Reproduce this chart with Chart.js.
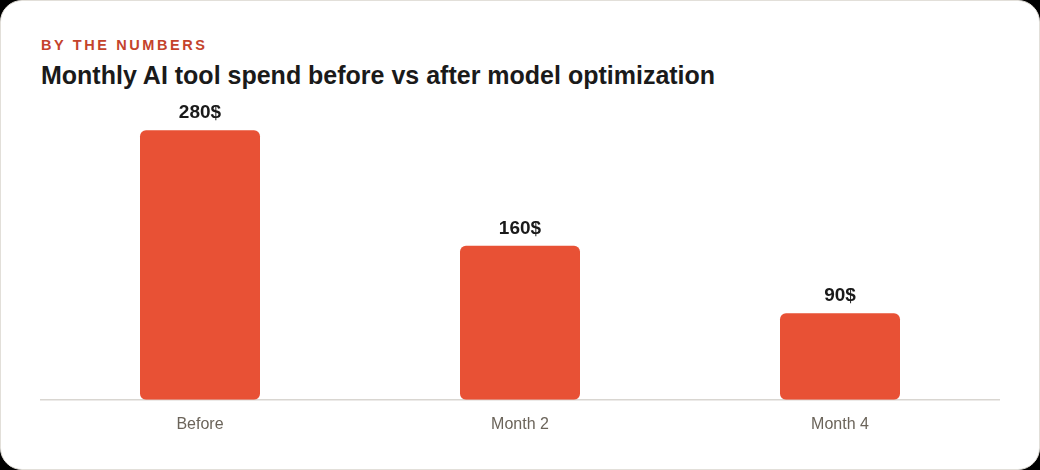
<!DOCTYPE html>
<html>
<head>
<meta charset="utf-8">
<script src="https://cdn.jsdelivr.net/npm/chart.js@4.4.1/dist/chart.umd.min.js"></script>
<style>
  html, body { margin:0; padding:0; background:#000; }
  body { width:1040px; height:470px; overflow:hidden; font-family:"Liberation Sans", Arial, sans-serif; }
  .card { position:absolute; left:0; top:0; width:1038px; height:468px; background:#fff; border:1px solid #e2dfd9; border-radius:22px; }
  .kicker { position:absolute; left:40px; top:36px; font-size:14.5px; font-weight:700; letter-spacing:2.6px; color:#c4432b; }
  .title { position:absolute; left:40px; top:60px; font-size:25px; font-weight:700; color:#1a1a1a; }
  .wrap { position:absolute; left:40px; top:100px; width:960px; height:349px; }
</style>
</head>
<body>
<div class="card">
  <div class="kicker">BY THE NUMBERS</div>
  <div class="title">Monthly AI tool spend before vs after model optimization</div>
</div>
<div class="wrap"><canvas id="c"></canvas></div>
<script>
const categories = ["Before", "Month 2", "Month 4"];
const spend = [280, 160, 90];
const valueLabels = ["280$", "160$", "90$"];

const labelPlugin = {
  id: "valueLabels",
  afterDatasetsDraw(chart) {
    const ctx = chart.ctx;
    const meta = chart.getDatasetMeta(0);
    ctx.save();
    ctx.font = "bold 19px 'Liberation Sans', Arial, sans-serif";
    ctx.fillStyle = "#1a1a1a";
    ctx.textAlign = "center";
    ctx.textBaseline = "middle";
    meta.data.forEach((bar, i) => {
      ctx.fillText(valueLabels[i], bar.x, bar.y - 17.5);
    });
    ctx.restore();
  }
};

new Chart(document.getElementById("c"), {
  type: "bar",
  data: {
    labels: categories,
    datasets: [{
      data: spend,
      backgroundColor: "#e85135",
      borderRadius: 6,
      borderSkipped: false,
      barPercentage: 0.375,
      categoryPercentage: 1
    }]
  },
  options: {
    responsive: true,
    maintainAspectRatio: false,
    animation: false,
    layout: { padding: { top: 11, left: 0, right: 0, bottom: 0 } },
    plugins: { legend: { display: false }, tooltip: { enabled: false } },
    scales: {
      x: {
        grid: { display: false, drawTicks: false },
        border: { display: true, color: "#d9d6d1", width: 1.5 },
        ticks: { color: "#6b645a", font: { size: 16, family: "'Liberation Sans', Arial, sans-serif" }, padding: 15 }
      },
      y: {
        display: false,
        min: 0,
        max: 300
      }
    }
  },
  plugins: [labelPlugin]
});
</script>
</body>
</html>
